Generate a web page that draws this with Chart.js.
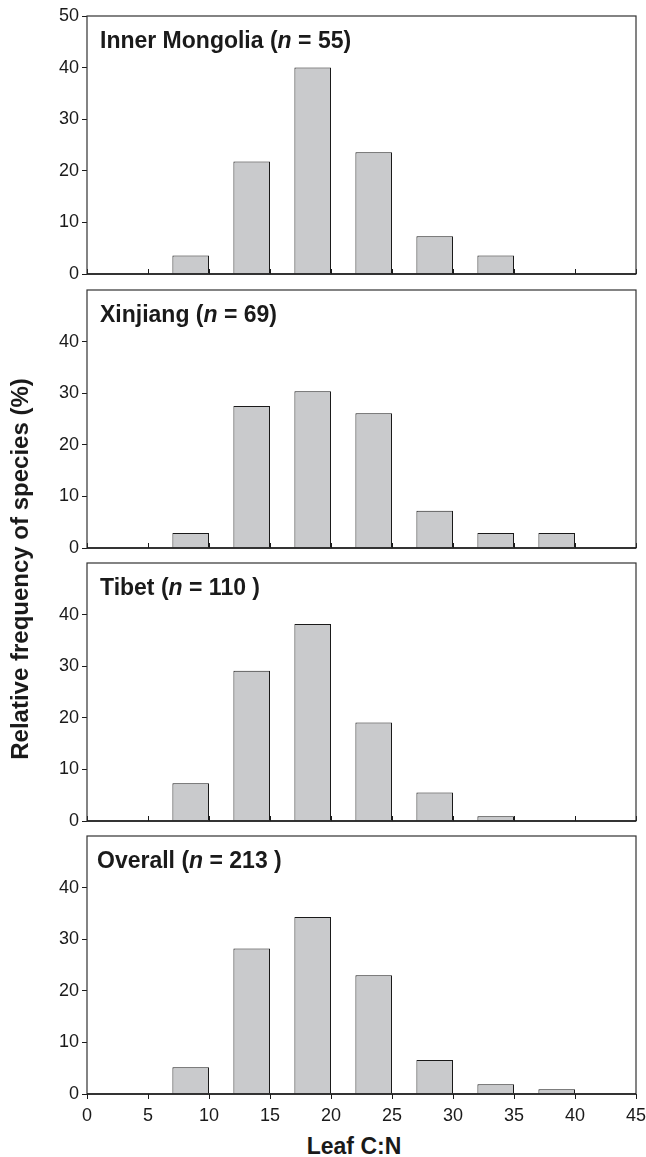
<!DOCTYPE html>
<html>
<head>
<meta charset="utf-8">
<script src="https://cdn.jsdelivr.net/npm/chart.js"></script>
<style>
    body { margin: 0; background: #fff; }
    #wrap { position: relative; width: 646px; height: 1157px; overflow: hidden;
            font-family: "Liberation Sans", Arial, sans-serif; color: #1a1a1a; }
    .panel { position: absolute; left: 0; }
    .ptitle { position: absolute; left: 100px; font-weight: bold; font-size: 23px; line-height: 23px; white-space: nowrap; }
    #ytitle { position: absolute; left: -280px; top: 557px; width: 600px; height: 24px; line-height: 24px;
              text-align: center; font-weight: bold; font-size: 24px; transform: rotate(-90deg); white-space: nowrap; }
    #xtitle { position: absolute; left: 254px; top: 1135px; width: 200px; text-align: center;
              font-weight: bold; font-size: 23px; line-height: 23px; }
</style>
</head>
<body>
<div id="wrap">
    <canvas id="c0" class="panel" width="646" height="278" style="top:6px"></canvas>
    <canvas id="c1" class="panel" width="646" height="278" style="top:280px"></canvas>
    <canvas id="c2" class="panel" width="646" height="278" style="top:553px"></canvas>
    <canvas id="c3" class="panel" width="646" height="300" style="top:826px"></canvas>
    <div class="ptitle" style="top:29px">Inner Mongolia (<i>n</i> = 55)</div>
    <div class="ptitle" style="top:303px">Xinjiang (<i>n</i> = 69)</div>
    <div class="ptitle" style="top:576px">Tibet (<i>n</i> = 110 )</div>
    <div class="ptitle" style="top:849px; left:97px">Overall (<i>n</i> = 213 )</div>
    <div id="ytitle">Relative frequency of species (%)</div>
    <div id="xtitle">Leaf C:N</div>
</div>
<script>
    // bin centres (bars span 7-10, 12-15, ... 37-40)
    const binCentres = [8.5, 13.5, 18.5, 23.5, 28.5, 33.5, 38.5];
    const xTicks = [0, 5, 10, 15, 20, 25, 30, 35, 40, 45];
    const yTicks = [0, 10, 20, 30, 40, 50];

    // relative frequency of species (%)
    const innerMongolia = [3.6, 21.8, 40.0, 23.6, 7.3, 3.6, 0];
    const xinjiang      = [2.9, 27.5, 30.4, 26.1, 7.2, 2.9, 2.9];
    const tibet         = [7.3, 29.1, 38.2, 19.1, 5.5, 0.9, 0];
    const overall       = [5.2, 28.2, 34.3, 23.0, 6.6, 1.9, 0.9];

    const ink = '#1a1a1a';
    const tickFont = { family: '"Liberation Sans", Arial, sans-serif', size: 18 };

    // frame round the plot area, plus short inward ticks on the panels without labels
    const boxPlugin = {
        id: 'box',
        beforeDatasetsDraw(chart, args, opts) {
            if (!opts.innerTicks) return;
            const { ctx, chartArea, scales: { x } } = chart;
            ctx.save();
            ctx.strokeStyle = ink;
            ctx.lineWidth = 1;
            xTicks.forEach(v => {
                const px = Math.round(x.getPixelForValue(v)) + 0.5;
                ctx.beginPath();
                ctx.moveTo(px, chartArea.bottom);
                ctx.lineTo(px, chartArea.bottom - 5);
                ctx.stroke();
            });
            ctx.restore();
        },
        afterDraw(chart) {
            const { ctx, chartArea: a } = chart;
            ctx.save();
            ctx.strokeStyle = '#333';
            ctx.lineWidth = 1.2;
            ctx.strokeRect(a.left, a.top, a.right - a.left, a.bottom - a.top);
            ctx.beginPath();
            ctx.strokeStyle = ink;
            ctx.lineWidth = 1.6;
            ctx.moveTo(a.left, a.bottom);
            ctx.lineTo(a.right, a.bottom);
            ctx.stroke();
            ctx.restore();
        }
    };

    function makePanel(id, values, showTop, showX) {
        new Chart(document.getElementById(id), {
            type: 'bar',
            data: {
                datasets: [{
                    data: binCentres.map((c, i) => ({ x: c, y: values[i] })),
                    backgroundColor: '#c9cacc',
                    borderColor: ink,
                    borderWidth: 1,
                    borderSkipped: 'start',
                    barPercentage: 0.6,
                    categoryPercentage: 1
                }]
            },
            options: {
                responsive: false,
                animation: false,
                devicePixelRatio: 1,
                layout: { autoPadding: false, padding: { left: 0, right: 10, top: 10, bottom: showX ? 0 : 10 } },
                plugins: {
                    legend: { display: false },
                    tooltip: { enabled: false },
                    box: { innerTicks: !showX }
                },
                scales: {
                    x: {
                        type: 'linear',
                        min: 0,
                        max: 45,
                        offset: false,
                        grid: { display: showX, drawOnChartArea: false, tickLength: 5, color: ink, offset: false },
                        border: { display: false },
                        ticks: {
                            display: showX,
                            autoSkip: false,
                            maxRotation: 0,
                            padding: 6,
                            font: tickFont,
                            color: ink
                        },
                        afterBuildTicks: s => { s.ticks = xTicks.map(v => ({ value: v })); },
                        afterFit: s => {
                            s.height = showX ? 32 : 0;
                            s.paddingLeft = 0;
                            s.paddingRight = 0;
                        }
                    },
                    y: {
                        min: 0,
                        max: 50,
                        grid: {
                            drawOnChartArea: false,
                            tickLength: 5,
                            color: c => (c.tick && c.tick.value === 50 && !showTop) ? 'rgba(0,0,0,0)' : ink
                        },
                        border: { display: false },
                        ticks: {
                            padding: 3,
                            font: tickFont,
                            color: ink,
                            callback: v => (v === 50 && !showTop) ? '' : v
                        },
                        afterBuildTicks: s => { s.ticks = yTicks.map(v => ({ value: v })); },
                        afterFit: s => {
                            s.width = 87;
                            s.paddingTop = 0;
                            s.paddingBottom = 0;
                        }
                    }
                }
            },
            plugins: [boxPlugin]
        });
    }

    makePanel('c0', innerMongolia, true, false);
    makePanel('c1', xinjiang, false, false);
    makePanel('c2', tibet, false, false);
    makePanel('c3', overall, false, true);
</script>
</body>
</html>
